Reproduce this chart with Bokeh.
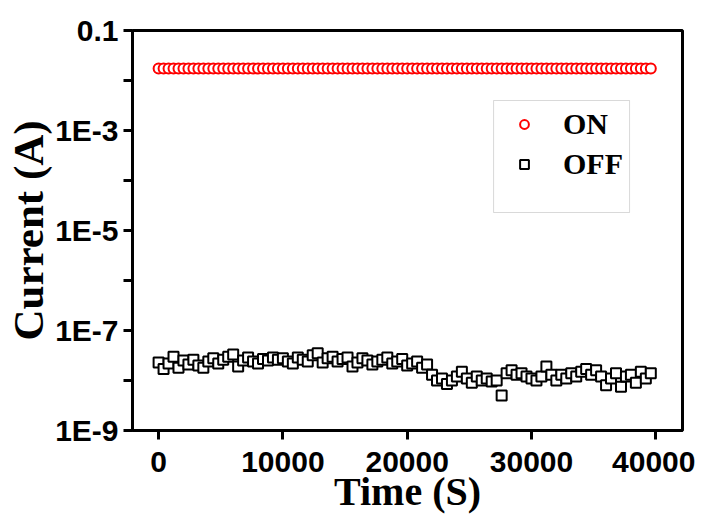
from bokeh.plotting import figure
from bokeh.models import Range1d, FixedTicker, CustomJSTickFormatter, Legend, LegendItem, BoxAnnotation
from bokeh.embed import file_html
from bokeh.resources import INLINE

# ---- data ----
time_s = [0, 400, 800, 1200, 1600, 2000, 2400, 2800, 3200, 3600,
          4000, 4400, 4800, 5200, 5600, 6000, 6400, 6800, 7200, 7600,
          8000, 8400, 8800, 9200, 9600, 10000, 10400, 10800, 11200, 11600,
          12000, 12400, 12800, 13200, 13600, 14000, 14400, 14800, 15200, 15600,
          16000, 16400, 16800, 17200, 17600, 18000, 18400, 18800, 19200, 19600,
          20000, 20400, 20800, 21200, 21600, 22000, 22400, 22800, 23200, 23600,
          24000, 24400, 24800, 25200, 25600, 26000, 26400, 26800, 27200, 27600,
          28000, 28400, 28800, 29200, 29600, 30000, 30400, 30800, 31200, 31600,
          32000, 32400, 32800, 33200, 33600, 34000, 34400, 34800, 35200, 35600,
          36000, 36400, 36800, 37200, 37600, 38000, 38400, 38800, 39200, 39600]

on_current = [
    0.0174, 0.0174, 0.0174, 0.0174, 0.0174, 0.0174, 0.0174, 0.0174, 0.0174, 0.0174,
    0.0174, 0.0174, 0.0174, 0.0174, 0.0174, 0.0174, 0.0174, 0.0174, 0.0174, 0.0174,
    0.0174, 0.0174, 0.0174, 0.0174, 0.0174, 0.0174, 0.0174, 0.0174, 0.0174, 0.0174,
    0.0174, 0.0174, 0.0174, 0.0174, 0.0174, 0.0174, 0.0174, 0.0174, 0.0174, 0.0174,
    0.0174, 0.0174, 0.0174, 0.0174, 0.0174, 0.0174, 0.0174, 0.0174, 0.0174, 0.0174,
    0.0174, 0.0174, 0.0174, 0.0174, 0.0174, 0.0174, 0.0174, 0.0174, 0.0174, 0.0174,
    0.0174, 0.0174, 0.0174, 0.0174, 0.0174, 0.0174, 0.0174, 0.0174, 0.0174, 0.0174,
    0.0174, 0.0174, 0.0174, 0.0174, 0.0174, 0.0174, 0.0174, 0.0174, 0.0174, 0.0174,
    0.0174, 0.0174, 0.0174, 0.0174, 0.0174, 0.0174, 0.0174, 0.0174, 0.0174, 0.0174,
    0.0174, 0.0174, 0.0174, 0.0174, 0.0174, 0.0174, 0.0174, 0.0174, 0.0174, 0.0174]

off_current = [
    2.3e-8, 1.7e-8, 2.2e-8, 3.0e-8, 1.8e-8, 2.5e-8, 2.1e-8, 2.6e-8, 2.0e-8, 1.8e-8,
    2.4e-8, 2.8e-8, 2.2e-8, 2.6e-8, 3.0e-8, 3.3e-8, 1.9e-8, 2.5e-8, 2.9e-8, 2.4e-8,
    2.2e-8, 2.7e-8, 2.5e-8, 2.9e-8, 2.6e-8, 2.8e-8, 2.4e-8, 2.2e-8, 2.9e-8, 2.6e-8,
    2.4e-8, 3.2e-8, 3.5e-8, 2.3e-8, 2.8e-8, 3.0e-8, 2.4e-8, 2.7e-8, 2.9e-8, 1.9e-8,
    2.3e-8, 2.8e-8, 2.5e-8, 2.1e-8, 2.4e-8, 2.6e-8, 2.9e-8, 2.2e-8, 2.4e-8, 2.7e-8,
    2.0e-8, 2.2e-8, 2.4e-8, 1.8e-8, 2.1e-8, 1.3e-8, 1.0e-8, 1.1e-8, 0.85e-8, 1.0e-8,
    1.2e-8, 1.5e-8, 1.1e-8, 0.9e-8, 1.2e-8, 1.0e-8, 1.1e-8, 0.95e-8, 1.0e-8, 0.5e-8,
    1.4e-8, 1.6e-8, 1.3e-8, 1.4e-8, 1.2e-8, 1.1e-8, 1.0e-8, 1.2e-8, 1.9e-8, 1.3e-8,
    1.0e-8, 1.3e-8, 1.1e-8, 1.4e-8, 1.2e-8, 1.5e-8, 1.7e-8, 1.3e-8, 1.6e-8, 1.2e-8,
    0.8e-8, 1.1e-8, 1.4e-8, 0.75e-8, 1.2e-8, 1.3e-8, 0.9e-8, 1.5e-8, 1.1e-8, 1.4e-8]

x_ticks = [0, 10000, 20000, 30000, 40000]
y_ticks = [1e-9, 1e-8, 1e-7, 1e-6, 1e-5, 1e-4, 1e-3, 1e-2, 1e-1]
series_labels = ["ON", "OFF"]

# ---- layout constants ----
X_MIN, X_MAX = -2100, 42150
Y_MIN, Y_MAX = 1e-9, 0.1
LEG_BOX = dict(left=26950, right=37890, top=3.98e-3, bottom=2.29e-5)

TICK_FONT = "Liberation Sans"
TITLE_FONT = "Liberation Serif"

p = figure(width=695, height=517, output_backend="svg", toolbar_location=None,
           x_range=Range1d(X_MIN, X_MAX), y_range=Range1d(Y_MIN, Y_MAX),
           y_axis_type="log",
           min_border_left=132, min_border_right=13, min_border_top=30, min_border_bottom=87)

p.background_fill_color = "white"
p.border_fill_color = "white"
p.outline_line_color = "black"
p.outline_line_width = 3
p.xgrid.visible = False
p.ygrid.visible = False

r_on = p.scatter(time_s, on_current, marker="circle", size=10, line_color="#ff0000",
                 line_width=2, fill_color="white")
r_off = p.scatter(time_s, off_current, marker="square", size=10, line_color="black",
                  line_width=2, fill_color="white")

for ax in (p.xaxis[0], p.yaxis[0]):
    ax.axis_line_width = 3
    ax.axis_line_color = "black"
    ax.major_tick_line_width = 3
    ax.major_tick_line_color = "black"
    ax.major_tick_out = 9
    ax.major_tick_in = 0
    ax.minor_tick_line_color = None
    ax.major_label_text_font = TICK_FONT
    ax.major_label_text_font_style = "bold"
    ax.major_label_text_font_size = "30px"
    ax.major_label_text_color = "black"
    ax.axis_label_text_font = TITLE_FONT
    ax.axis_label_text_font_style = "bold"
    ax.axis_label_text_color = "black"

p.xaxis.ticker = FixedTicker(ticks=x_ticks)
p.xaxis.axis_label = "Time (S)"
p.xaxis.axis_label_text_font_size = "40px"
p.xaxis.major_label_standoff = 12
p.xaxis.axis_label_standoff = -6

p.yaxis.ticker = FixedTicker(ticks=y_ticks)
p.yaxis.formatter = CustomJSTickFormatter(code="""
const e = Math.round(Math.log10(tick));
if (e == -1) return "0.1";
if (Math.abs(e) % 2 == 1) return "1E" + e;
return "";
""")
p.yaxis.axis_label = "Current (A)"
p.yaxis.axis_label_text_font_size = "43px"
p.yaxis.major_label_standoff = 5
p.yaxis.axis_label_standoff = 0

box = BoxAnnotation(fill_alpha=0, line_color="#808080", line_width=1, **LEG_BOX)
p.add_layout(box)

legend = Legend(items=[LegendItem(label=series_labels[0], renderers=[r_on]),
                       LegendItem(label=series_labels[1], renderers=[r_off])],
                location=(381, 249))
legend.border_line_alpha = 0
legend.background_fill_alpha = 0
legend.padding = 0
legend.margin = 0
legend.spacing = 6
legend.glyph_width = 22
legend.glyph_height = 22
legend.label_height = 34
legend.label_standoff = 28
legend.label_text_font = TITLE_FONT
legend.label_text_font_style = "bold"
legend.label_text_font_size = "30px"
legend.label_text_color = "black"
p.add_layout(legend)

open("out.html", "w").write(file_html(p, INLINE))
